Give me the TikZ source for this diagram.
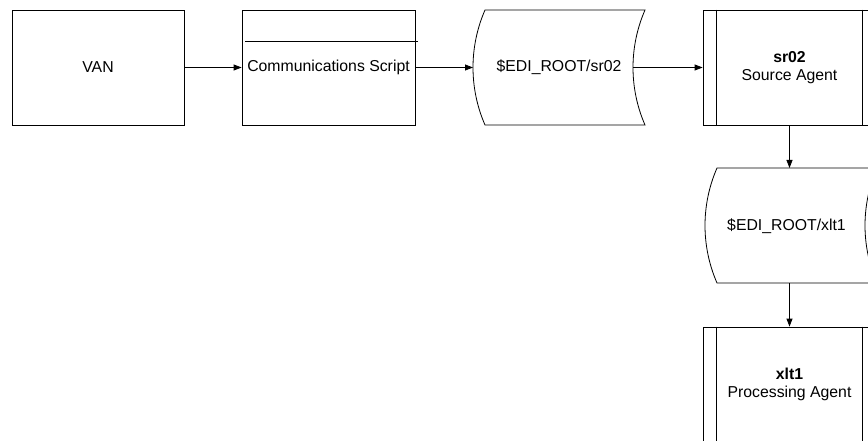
\documentclass[tikz,border=0pt]{standalone}
\usepackage{fontspec}
\setmainfont{Liberation Sans}
\usetikzlibrary{arrows.meta}
\begin{document}
\begin{tikzpicture}[x=1pt,y=-1pt, line width=0.8pt,
  every node/.style={font=\fontsize{15.8}{18}\selectfont, align=center, inner sep=0pt},
  boxnode/.style={draw, minimum width=173pt, minimum height=115pt},
  arr/.style={-{Triangle[length=8pt,width=6pt]}}]
\useasboundingbox (0,0) rectangle (868,441);
% VAN
\node[boxnode, minimum width=172pt] (van) at (98,67.5) {VAN};
% Communications script
\node[boxnode] (comm) at (328.5,67.5) {Communications Script};
\draw (245,41) -- (418,41);
% storage 1
\draw (485,10) -- (645,10) .. controls (629,46.7) and (629,88.3) .. (645,125) -- (485,125) .. controls (469,88.3) and (469,46.7) .. cycle;
\node (st1) at (559,67) {\$EDI\_ROOT/sr02};
\coordinate (st1in) at (473,67.5);
\coordinate (st1out) at (633,67.5);
% sr02 agent
\node[boxnode] (sr02) at (789.5,67.5) {\textbf{sr02}\\Source Agent};
\draw ([xshift=14pt]sr02.north west) -- ([xshift=14pt]sr02.south west);
\draw ([xshift=-14pt]sr02.north east) -- ([xshift=-14pt]sr02.south east);
% storage 2
\draw (717,168) -- (877,168) .. controls (861,204.7) and (861,246.3) .. (877,283) -- (717,283) .. controls (701,246.3) and (701,204.7) .. cycle;
\node (st2) at (786.5,226) {\$EDI\_ROOT/xlt1};
\coordinate (st2top) at (789.5,168);
\coordinate (st2bot) at (789.5,283);
% xlt1 agent
\node[boxnode] (xlt1) at (789.5,384.5) {\textbf{xlt1}\\Processing Agent};
\draw ([xshift=14pt]xlt1.north west) -- ([xshift=14pt]xlt1.south west);
\draw ([xshift=-14pt]xlt1.north east) -- ([xshift=-14pt]xlt1.south east);
% connectors
\draw[arr] (van.east) -- (comm.west);
\draw[arr] (comm.east) -- (st1in);
\draw[arr] (st1out) -- (sr02.west);
\draw[arr] (sr02.south) -- (st2top);
\draw[arr] (st2bot) -- (xlt1.north);
\end{tikzpicture}
\end{document}
